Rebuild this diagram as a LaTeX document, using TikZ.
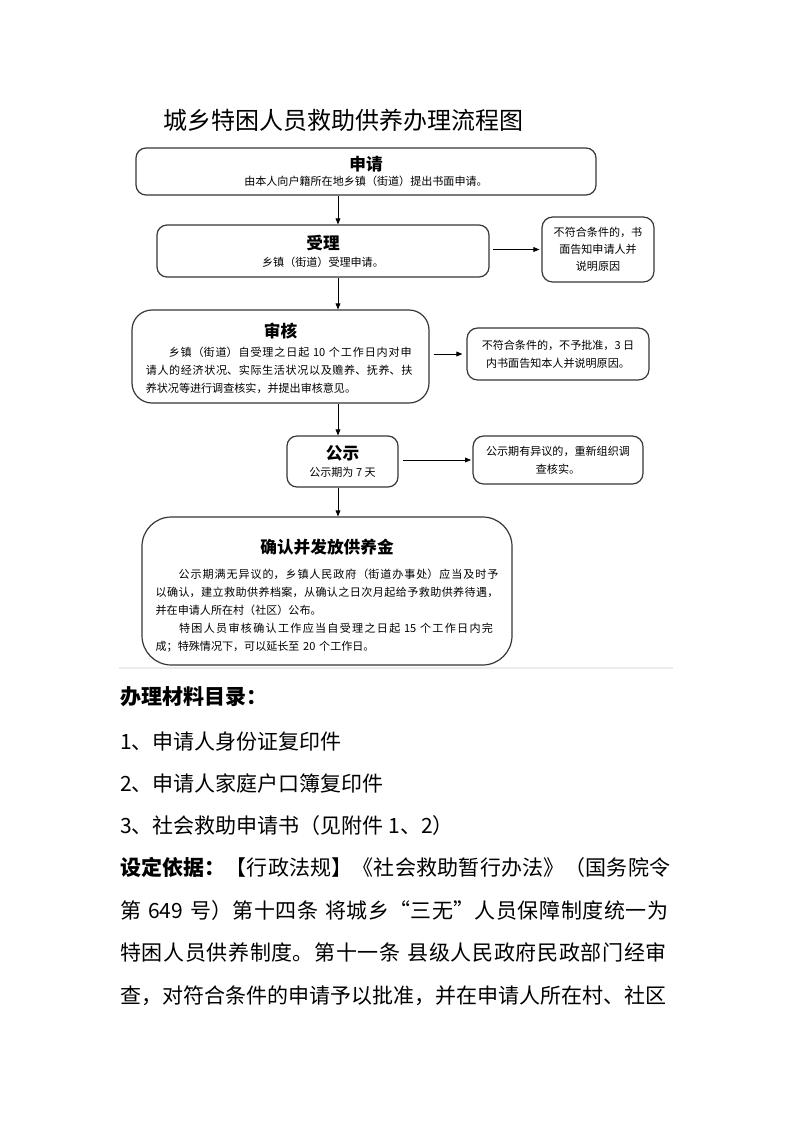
\documentclass[tikz,border=0pt]{standalone}
\usepackage{fontspec}
\setmainfont{Noto Sans CJK SC}
\usetikzlibrary{arrows.meta}
\XeTeXlinebreaklocale "zh"
\XeTeXlinebreakskip=0pt plus 4pt
\tolerance=10000
\definecolor{cLine}{RGB}{55,55,55}
\newcommand{\boxttl}{\bfseries\fontsize{12.5}{15}\selectfont}
\newcommand{\smalltxt}{\fontsize{8.3}{13.5}\selectfont}
\newcommand{\bodytxt}{\fontsize{15.75}{31.9}\selectfont}
\newcommand{\justpar}{\leftskip=0pt \rightskip=0pt \parfillskip=0pt plus 1fil \parindent=0pt \noindent}
\tikzset{
	basebox/.style={rectangle, draw=cLine, line width=0.9pt, rounded corners=7.5pt, inner sep=2pt, font=\smalltxt},
	flowbox/.style={basebox, align=center},
	sidebox/.style={flowbox, rounded corners=8pt},
	widebox/.style={basebox},
	sig/.style={-{Triangle[length=4.5pt, width=3.6pt]}, line width=0.6pt},
	txt/.style={anchor=west, inner sep=0pt, font=\bodytxt},
}

\begin{document}
\begin{tikzpicture}[x=0.75pt, y=-0.75pt]
	\fill[white] (0,0) rectangle (793,1122);
	\useasboundingbox (0,0) rectangle (793,1122);
	\node[anchor=west, inner sep=0pt, font=\fontsize{18}{20}\selectfont] (ttl) at (163,120) {城乡特困人员救助供养办理流程图};
	% main steps
	\coordinate (axis) at (338,0);
	\node[flowbox, minimum width=345pt, minimum height=35.25pt] (apply) at (366,171.5) {{\boxttl 申请}\\[-2pt]由本人向户籍所在地乡镇（街道）提出书面申请。};
	\node[flowbox, minimum width=249pt, minimum height=39pt] (accept) at (323,251) {{\boxttl 受理}\\[-0.75pt]乡镇（街道）受理申请。};
	\node[widebox, rounded corners=15pt, text width=202pt, minimum width=222.75pt, minimum height=69.75pt] (review) at (280.5,356.5) {\centerline{\boxttl 审核}\vspace{0.75pt}
		\justpar\fontsize{8.3}{11.25}\selectfont 　　乡镇（街道）自受理之日起 10 个工作日内对申\linebreak 请人的经济状况、实际生活状况以及赡养、抚养、扶\linebreak 养状况等进行调查核实，并提出审核意见。\vspace{-3pt}};
	\node[flowbox, minimum width=83.25pt, minimum height=38.25pt] (notice) at (342.5,461.5) {{\boxttl 公示}\\[-0.75pt]公示期为 7 天};
	\node[widebox, rounded corners=22pt, text width=257pt, minimum width=277.5pt, minimum height=111pt] (grant) at (327,591) {\centerline{\boxttl 确认并发放供养金}\vspace{5.25pt}
		\justpar 　　公示期满无异议的，乡镇人民政府（街道办事处）应当及时予\linebreak 以确认，建立救助供养档案，从确认之日次月起给予救助供养待遇，\linebreak 并在申请人所在村（社区）公布。\par
		\noindent 　　特困人员审核确认工作应当自受理之日起 15 个工作日内完\linebreak 成；特殊情况下，可以延长至 20 个工作日。\vspace{-6.75pt}};
	% side results
	\node[sidebox, minimum width=84pt, minimum height=48.75pt] (rej1) at (598,249.5) {不符合条件的，书\\[-0.75pt]面告知申请人并\\[-0.75pt]说明原因};
	\node[sidebox, minimum width=136.5pt, minimum height=39pt] (rej2) at (558,354) {不符合条件的，不予批准，3 日\\内书面告知本人并说明原因。};
	\node[sidebox, minimum width=127.5pt, minimum height=36pt] (redo) at (558,460) {公示期有异议的，重新组织调\\查核实。};
	\draw[sig] (apply.south -| axis) -- (accept.north -| axis);
	\draw[sig] (accept.south -| axis) -- (review.north -| axis);
	\draw[sig] (review.south -| axis) -- (notice.north -| axis);
	\draw[sig] (notice.south -| axis) -- (grant.north -| axis);
	\draw[sig, shorten <=2.5pt, shorten >=1.5pt] (accept.east |- rej1) -- (rej1.west);
	\draw[sig, shorten <=3pt, shorten >=3pt] (review.east |- rej2) -- (rej2.west);
	\draw[sig, shorten <=3pt, shorten >=1pt] (notice.east |- redo) -- (redo.west);
	\draw[black!8, line width=0.8pt] (119,668) -- (673,668);
	% materials and basis
	\node[txt, font=\bodytxt\bfseries] (lst) at (120,697) {办理材料目录：};
	\node[txt] (i1) at (120,742) {1、申请人身份证复印件};
	\node[txt] (i2) at (120,783) {2、申请人家庭户口簿复印件};
	\node[txt] (i3) at (120,826) {3、社会救助申请书（见附件 1、2）};
	\node[txt, anchor=north west, text width=414pt] (basis) at (120,857) {\justpar\parfillskip=0pt {\bfseries 设定依据：}【行政法规】《社会救助暂行办法》（国务院令\linebreak 第 649 号）第十四条 将城乡“三无”人员保障制度统一为\linebreak 特困人员供养制度。第十一条 县级人民政府民政部门经审\linebreak 查，对符合条件的申请予以批准，并在申请人所在村、社区};
\end{tikzpicture}
\end{document}
